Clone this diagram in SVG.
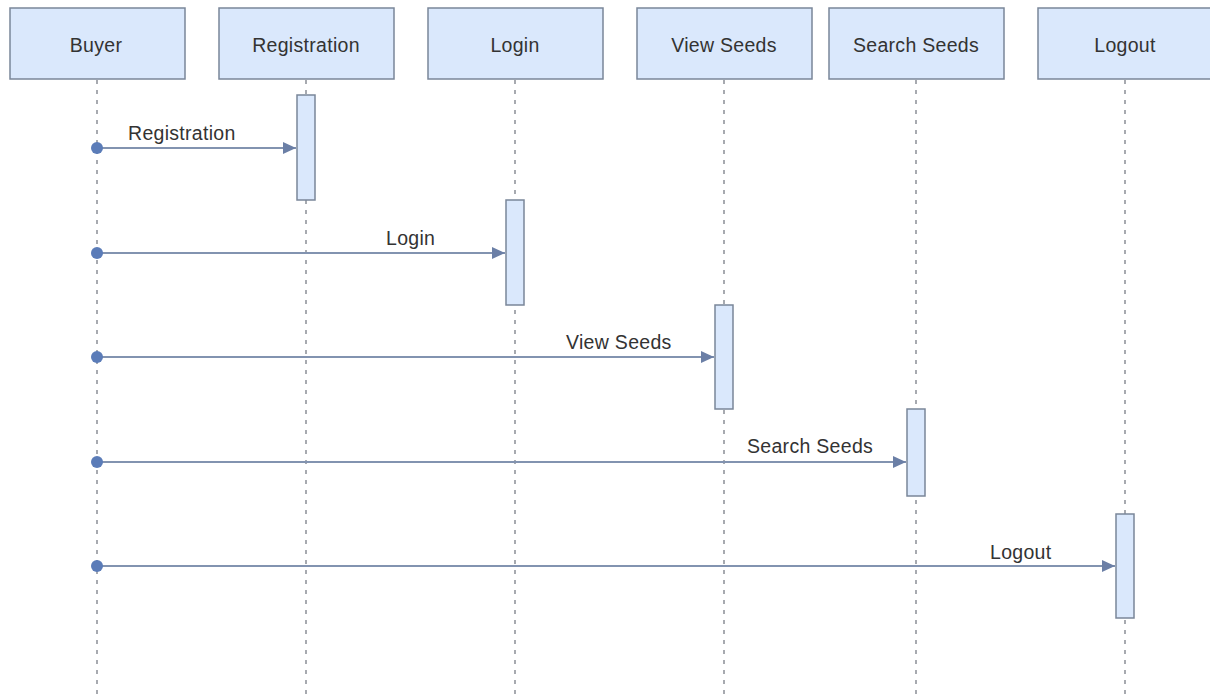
<svg xmlns="http://www.w3.org/2000/svg" width="1210" height="699" viewBox="0 0 1210 699">
  <defs>
    <style>
      .head { fill: #dae8fc; stroke: #7a8699; stroke-width: 1.5; }
      .act { fill: #dae8fc; stroke: #7a8699; stroke-width: 1.5; }
      .life { stroke: #8a8f96; stroke-width: 1.5; stroke-dasharray: 4 6; fill: none; }
      .msg { stroke: #8293b0; stroke-width: 2; fill: none; }
      .dot { fill: #5b7cb8; }
      text { font-family: "Liberation Sans", Arial, sans-serif; font-size: 19.5px; letter-spacing: 0.3px; fill: #333333; }
      .ht { text-anchor: middle; }
    </style>
    <marker id="arrow" markerWidth="14" markerHeight="14" refX="13" refY="7" orient="auto" markerUnits="userSpaceOnUse">
      <path d="M0,1 L13,7 L0,13 Z" fill="#6b7fa6"/>
    </marker>
  </defs>
  <rect width="1210" height="699" fill="#ffffff"/>

  <!-- lifelines -->
  <g id="lifelines">
    <line class="life" x1="97" y1="80" x2="97" y2="699"/>
    <line class="life" x1="306" y1="80" x2="306" y2="699"/>
    <line class="life" x1="515" y1="80" x2="515" y2="699"/>
    <line class="life" x1="724" y1="80" x2="724" y2="699"/>
    <line class="life" x1="916" y1="80" x2="916" y2="699"/>
    <line class="life" x1="1125" y1="80" x2="1125" y2="699"/>
  </g>

  <!-- participants -->
  <g id="buyer">
    <rect class="head" x="10" y="8" width="175" height="71"/>
    <text class="ht" x="96" y="52">Buyer</text>
  </g>
  <g id="registration">
    <rect class="head" x="219" y="8" width="175" height="71"/>
    <text class="ht" x="306" y="52">Registration</text>
    <rect class="act" x="297" y="95" width="18" height="105"/>
  </g>
  <g id="login">
    <rect class="head" x="428" y="8" width="175" height="71"/>
    <text class="ht" x="515" y="52">Login</text>
    <rect class="act" x="506" y="200" width="18" height="105"/>
  </g>
  <g id="view-seeds">
    <rect class="head" x="637" y="8" width="175" height="71"/>
    <text class="ht" x="724" y="52">View Seeds</text>
    <rect class="act" x="715" y="305" width="18" height="104"/>
  </g>
  <g id="search-seeds">
    <rect class="head" x="829" y="8" width="175" height="71"/>
    <text class="ht" x="916" y="52">Search Seeds</text>
    <rect class="act" x="907" y="409" width="18" height="87"/>
  </g>
  <g id="logout">
    <rect class="head" x="1038" y="8" width="175" height="71"/>
    <text class="ht" x="1125" y="52">Logout</text>
    <rect class="act" x="1116" y="514" width="18" height="104"/>
  </g>

  <!-- messages -->
  <g id="connectors">
    <line class="msg" x1="97" y1="148" x2="296" y2="148" marker-end="url(#arrow)"/>
    <circle class="dot" cx="97" cy="148" r="6"/>
    <text x="128" y="140">Registration</text>

    <line class="msg" x1="97" y1="253" x2="505" y2="253" marker-end="url(#arrow)"/>
    <circle class="dot" cx="97" cy="253" r="6"/>
    <text x="386" y="245">Login</text>

    <line class="msg" x1="97" y1="357" x2="714" y2="357" marker-end="url(#arrow)"/>
    <circle class="dot" cx="97" cy="357" r="6"/>
    <text x="566" y="349">View Seeds</text>

    <line class="msg" x1="97" y1="462" x2="906" y2="462" marker-end="url(#arrow)"/>
    <circle class="dot" cx="97" cy="462" r="6"/>
    <text x="747" y="453">Search Seeds</text>

    <line class="msg" x1="97" y1="566" x2="1115" y2="566" marker-end="url(#arrow)"/>
    <circle class="dot" cx="97" cy="566" r="6"/>
    <text x="990" y="559">Logout</text>
  </g>
</svg>
